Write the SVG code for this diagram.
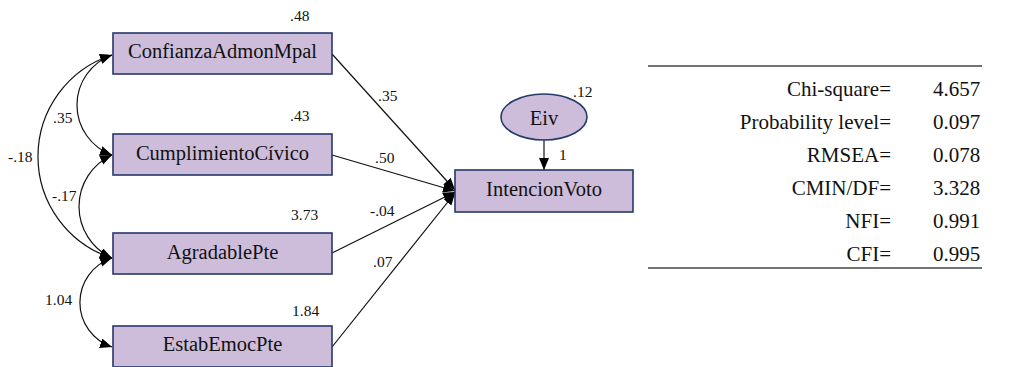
<svg xmlns="http://www.w3.org/2000/svg" width="1012" height="367" viewBox="0 0 1012 367">
<style>
.box{fill:#cdbdda;stroke:#25396a;stroke-width:1.6}
.lbl{font-family:"Liberation Serif","Times New Roman",serif;font-size:20.5px;fill:#111;text-anchor:middle}
.num{font-family:"Liberation Serif","Times New Roman",serif;font-size:15.5px;fill:#111}
.tbl{font-family:"Liberation Serif","Times New Roman",serif;font-size:21px;fill:#111}
.conn path,.conn line{fill:none;stroke:#111;stroke-width:1.2}
.rule{stroke:#444;stroke-width:1.6}
</style>
<defs>
<marker id="ah" markerUnits="userSpaceOnUse" markerWidth="13" markerHeight="11" refX="12" refY="5" orient="auto-start-reverse">
<path d="M0,0 L12,5 L0,10 z" fill="#000"/>
</marker>
</defs>
<rect width="1012" height="367" fill="#fff"/>
<g id="connectors" class="conn">
<path d="M112,55 A53.2,53.2 0 0 0 112,155" marker-start="url(#ah)" marker-end="url(#ah)"/>
<path d="M112,55 A106.6,106.6 0 0 0 112,258" marker-start="url(#ah)" marker-end="url(#ah)"/>
<path d="M112,155 A56.7,56.7 0 0 0 112,258" marker-start="url(#ah)" marker-end="url(#ah)"/>
<path d="M112,258 A46.9,46.9 0 0 0 112,347" marker-start="url(#ah)" marker-end="url(#ah)"/>
<line x1="332" y1="54" x2="455" y2="190" marker-end="url(#ah)"/>
<line x1="332" y1="155" x2="455" y2="191" marker-end="url(#ah)"/>
<line x1="332" y1="253" x2="455" y2="192" marker-end="url(#ah)"/>
<line x1="332" y1="347" x2="455" y2="193" marker-end="url(#ah)"/>
<line x1="544" y1="140" x2="544" y2="170" marker-end="url(#ah)"/>
<text class="num" x="53" y="123">.35</text>
<text class="num" x="8" y="162">-.18</text>
<text class="num" x="52" y="201">-.17</text>
<text class="num" x="45" y="305">1.04</text>
<text class="num" x="378" y="101">.35</text>
<text class="num" x="375" y="163">.50</text>
<text class="num" x="370" y="216">-.04</text>
<text class="num" x="373" y="267">.07</text>
<text class="num" x="559" y="160">1</text>
</g>
<g id="ConfianzaAdmonMpal">
<rect class="box" x="113" y="33" width="219" height="41"/>
<text class="lbl" x="222.5" y="58">ConfianzaAdmonMpal</text>
<text class="num" x="290" y="21">.48</text>
</g>
<g id="CumplimientoCivico">
<rect class="box" x="113" y="134" width="219" height="41"/>
<text class="lbl" x="222.5" y="160">CumplimientoCívico</text>
<text class="num" x="290" y="121">.43</text>
</g>
<g id="AgradablePte">
<rect class="box" x="113" y="233" width="219" height="41"/>
<text class="lbl" x="222.5" y="259">AgradablePte</text>
<text class="num" x="291" y="220">3.73</text>
</g>
<g id="EstabEmocPte">
<rect class="box" x="113" y="326" width="219" height="41"/>
<text class="lbl" x="222.5" y="351">EstabEmocPte</text>
<text class="num" x="292" y="316">1.84</text>
</g>
<g id="IntencionVoto">
<rect class="box" x="455" y="170" width="178" height="42"/>
<text class="lbl" x="544" y="196">IntencionVoto</text>
</g>
<g id="Eiv">
<ellipse class="box" cx="544" cy="117" rx="43" ry="23"/>
<text class="lbl" x="544" y="125">Eiv</text>
<text class="num" x="573" y="97">.12</text>
</g>
<g id="fit-table">
<line class="rule" x1="648" y1="66" x2="982" y2="66"/>
<line class="rule" x1="648" y1="268" x2="982" y2="268"/>
<g class="tbl" text-anchor="end">
<text x="891" y="96">Chi-square=</text>
<text x="891" y="129">Probability level=</text>
<text x="891" y="162">RMSEA=</text>
<text x="891" y="195">CMIN/DF=</text>
<text x="891" y="228">NFI=</text>
<text x="891" y="261">CFI=</text>
</g>
<g class="tbl">
<text x="933" y="96">4.657</text>
<text x="933" y="129">0.097</text>
<text x="933" y="162">0.078</text>
<text x="933" y="195">3.328</text>
<text x="933" y="228">0.991</text>
<text x="933" y="261">0.995</text>
</g>
</g>
</svg>
